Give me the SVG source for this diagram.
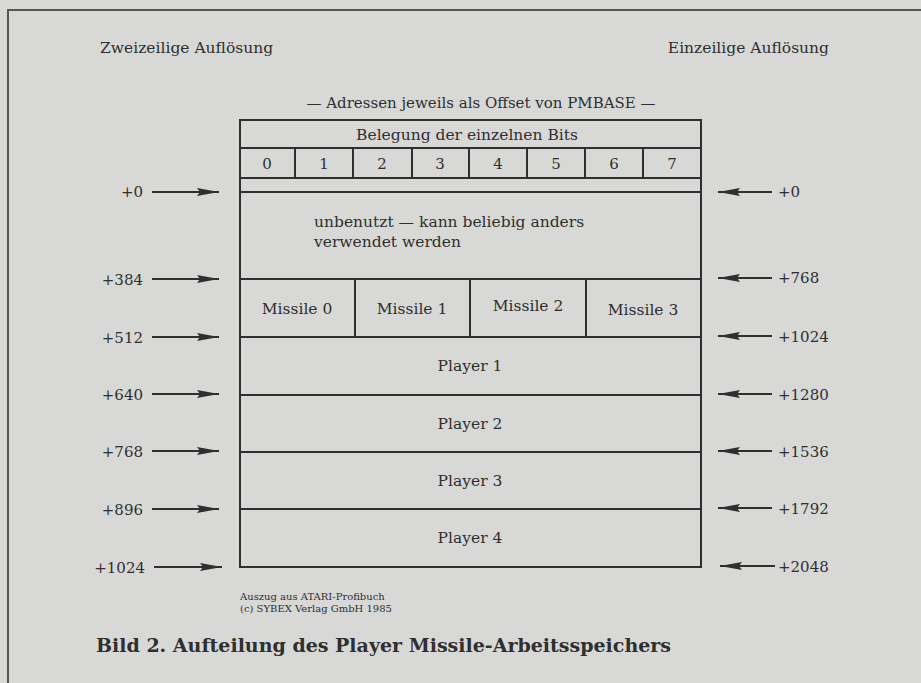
<svg xmlns="http://www.w3.org/2000/svg" width="921" height="683" viewBox="0 0 921 683">
<style>
.t{font-family:"DejaVu Serif","Liberation Serif",serif;fill:#2f2f2f;font-size:15.5px}
.n{font-size:15px}
.c{text-anchor:middle}
.r{text-anchor:end}
.box{fill:none;stroke:#2f2f2f;stroke-width:2}
.ln{stroke:#2f2f2f;stroke-width:2;fill:none}
.ar{stroke:#2f2f2f;stroke-width:2;fill:none}
</style>
<defs>
<marker id="ahb" viewBox="0 0 22 9" refX="22" refY="4.5" markerWidth="22" markerHeight="9" markerUnits="userSpaceOnUse" orient="auto">
<path d="M0,0.5 L22,4.5 L0,8.5 L3,4.5 Z" fill="#2f2f2f"/>
</marker>
</defs>
<rect width="921" height="683" fill="#d8d8d6"/>
<path d="M8,683 V10 H921" fill="none" stroke="#555" stroke-width="2"/>
<text class="t" x="100" y="53">Zweizeilige Auflösung</text>
<text class="t r" x="829" y="53">Einzeilige Auflösung</text>
<text class="t c" x="481" y="108" style="font-size:15px">— Adressen jeweils als Offset von PMBASE —</text>
<g id="header">
<rect class="box" x="240" y="120" width="461" height="28"/>
<text class="t c" x="467" y="140">Belegung der einzelnen Bits</text>
</g>
<g id="bits">
<rect class="box" x="240" y="148" width="461" height="30"/>
<path class="ln" d="M295,148V178M353,148V178M412,148V178M469,148V178M527,148V178M585,148V178M643,148V178"/>
<text class="t c n" x="267" y="169">0</text>
<text class="t c n" x="324" y="169">1</text>
<text class="t c n" x="382" y="169">2</text>
<text class="t c n" x="440" y="169">3</text>
<text class="t c n" x="498" y="169">4</text>
<text class="t c n" x="556" y="169">5</text>
<text class="t c n" x="614" y="169">6</text>
<text class="t c n" x="672" y="169">7</text>
</g>
<g id="row0"><rect class="box" x="240" y="178" width="461" height="14"/></g>
<g id="unused">
<rect class="box" x="240" y="192" width="461" height="87"/>
<text class="t" x="314" y="227">unbenutzt — kann beliebig anders</text>
<text class="t" x="314" y="247">verwendet werden</text>
</g>
<g id="missiles">
<rect class="box" x="240" y="279" width="461" height="58"/>
<path class="ln" d="M355,279V337M470,279V337M586,279V337"/>
<text class="t c" x="297" y="314">Missile 0</text>
<text class="t c" x="412" y="314">Missile 1</text>
<text class="t c" x="528" y="311">Missile 2</text>
<text class="t c" x="643" y="315">Missile 3</text>
</g>
<g id="player1"><rect class="box" x="240" y="337" width="461" height="58"/><text class="t c" x="470" y="371">Player 1</text></g>
<g id="player2"><rect class="box" x="240" y="395" width="461" height="57"/><text class="t c" x="470" y="429">Player 2</text></g>
<g id="player3"><rect class="box" x="240" y="452" width="461" height="57"/><text class="t c" x="470" y="486">Player 3</text></g>
<g id="player4"><rect class="box" x="240" y="509" width="461" height="58"/><text class="t c" x="470" y="543">Player 4</text></g>
<g id="labels-left">
<text class="t r n" x="143" y="197">+0</text>
<text class="t r n" x="143" y="285">+384</text>
<text class="t r n" x="143" y="343">+512</text>
<text class="t r n" x="143" y="400">+640</text>
<text class="t r n" x="143" y="457">+768</text>
<text class="t r n" x="143" y="515">+896</text>
<text class="t r n" x="145" y="573">+1024</text>
</g>
<g id="labels-right">
<text class="t n" x="778" y="197">+0</text>
<text class="t n" x="778" y="283">+768</text>
<text class="t n" x="778" y="342">+1024</text>
<text class="t n" x="778" y="400">+1280</text>
<text class="t n" x="778" y="457">+1536</text>
<text class="t n" x="778" y="514">+1792</text>
<text class="t n" x="778" y="572">+2048</text>
</g>
<g id="connectors">
<path class="ar" marker-end="url(#ahb)" d="M152,192H219"/>
<path class="ar" marker-end="url(#ahb)" d="M152,279H219"/>
<path class="ar" marker-end="url(#ahb)" d="M152,337H219"/>
<path class="ar" marker-end="url(#ahb)" d="M152,394H219"/>
<path class="ar" marker-end="url(#ahb)" d="M152,451H219"/>
<path class="ar" marker-end="url(#ahb)" d="M152,509H219"/>
<path class="ar" marker-end="url(#ahb)" d="M154,567H222"/>
<path class="ar" marker-end="url(#ahb)" d="M772,192H718"/>
<path class="ar" marker-end="url(#ahb)" d="M772,278H718"/>
<path class="ar" marker-end="url(#ahb)" d="M772,336H718"/>
<path class="ar" marker-end="url(#ahb)" d="M772,394H718"/>
<path class="ar" marker-end="url(#ahb)" d="M772,451H718"/>
<path class="ar" marker-end="url(#ahb)" d="M772,508H718"/>
<path class="ar" marker-end="url(#ahb)" d="M775,566H720"/>
</g>
<text class="t" x="240" y="600" style="font-size:10px">Auszug aus ATARI-Profibuch</text>
<text class="t" x="240" y="612" style="font-size:10px">(c) SYBEX Verlag GmbH 1985</text>
<text class="t" x="96" y="652" style="font-size:19px;font-weight:bold">Bild 2. Aufteilung des Player Missile-Arbeitsspeichers</text>
</svg>
